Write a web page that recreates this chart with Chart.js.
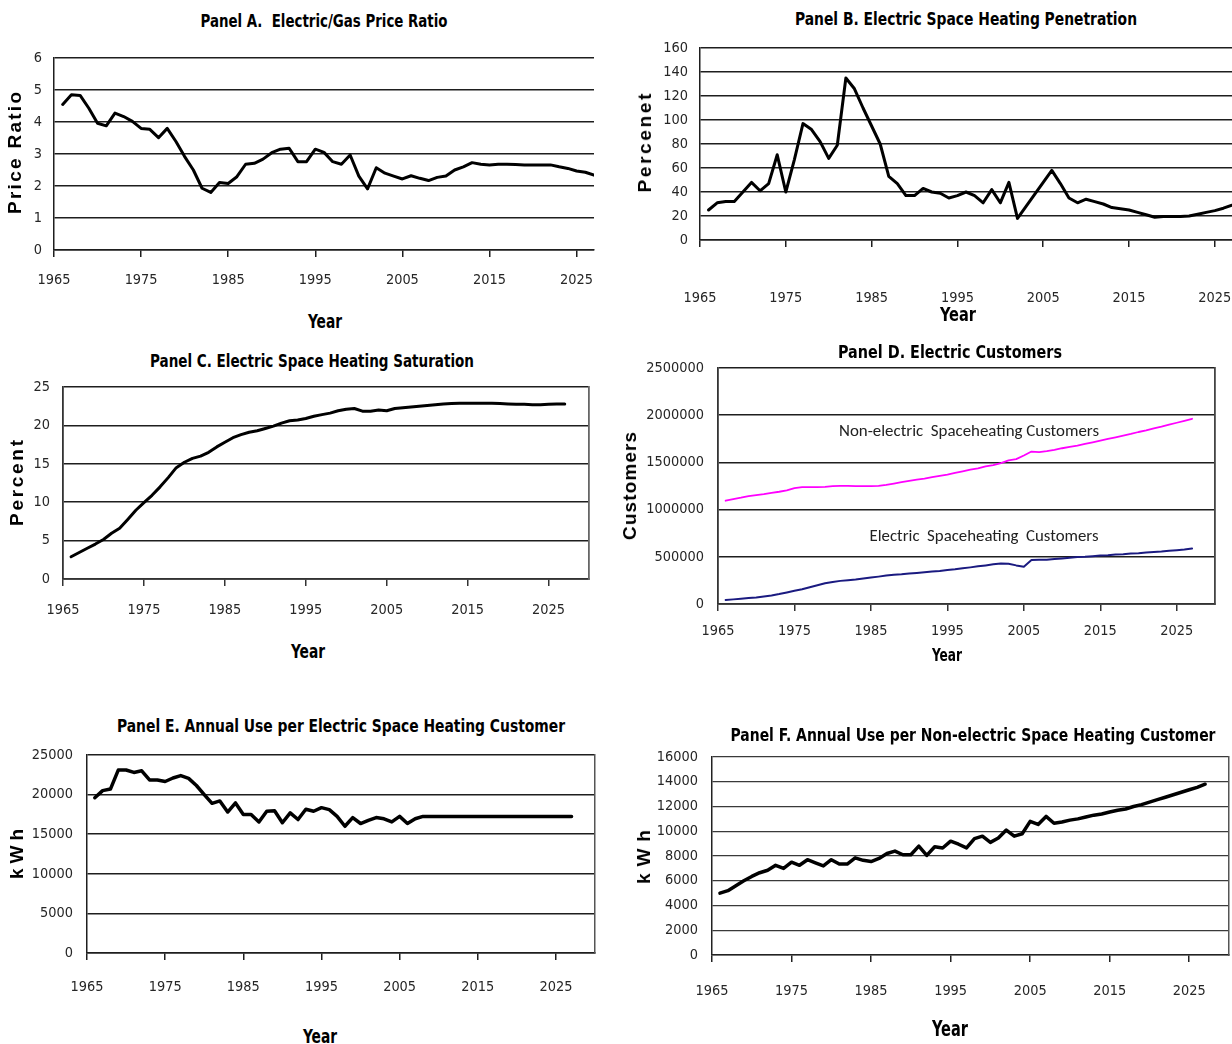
<!DOCTYPE html>
<html>
<head>
<meta charset="utf-8">
<script src="https://cdn.jsdelivr.net/npm/chart.js@4.4.1/dist/chart.umd.min.js"></script>
<style>
  html, body { margin: 0; padding: 0; background: #fff; }
  #page { position: relative; width: 1232px; height: 1044px; overflow: hidden; background: #fff; }
  #page canvas { position: absolute; }
  .lbl { position: absolute; white-space: pre; line-height: 1; color: #000; transform-origin: center center; }
</style>
</head>
<body>
<div id="page"></div>
<script>
// ---- data (annual, 1966-2027) ----
const years = [
  1966, 1967, 1968, 1969, 1970, 1971, 1972, 1973, 1974, 1975,
  1976, 1977, 1978, 1979, 1980, 1981, 1982, 1983, 1984, 1985,
  1986, 1987, 1988, 1989, 1990, 1991, 1992, 1993, 1994, 1995,
  1996, 1997, 1998, 1999, 2000, 2001, 2002, 2003, 2004, 2005,
  2006, 2007, 2008, 2009, 2010, 2011, 2012, 2013, 2014, 2015,
  2016, 2017, 2018, 2019, 2020, 2021, 2022, 2023, 2024, 2025,
  2026, 2027
];
const xTickYears = [1965, 1975, 1985, 1995, 2005, 2015, 2025];

// Panel A: electric / gas price ratio
const priceRatio = [
  4.55, 4.85, 4.83, 4.43, 3.96, 3.88, 4.28, 4.17, 4.02, 3.80,
  3.77, 3.51, 3.80, 3.39, 2.92, 2.50, 1.93, 1.80, 2.11, 2.08,
  2.29, 2.68, 2.71, 2.84, 3.04, 3.15, 3.18, 2.76, 2.76, 3.15,
  3.05, 2.76, 2.68, 2.97, 2.31, 1.91, 2.57, 2.40, 2.31, 2.22,
  2.32, 2.24, 2.17, 2.27, 2.31, 2.50, 2.60, 2.73, 2.68, 2.66,
  2.68, 2.68, 2.67, 2.66, 2.66, 2.66, 2.66, 2.60, 2.55, 2.47,
  2.43, 2.34
];
// Panel B: electric space heating penetration (%)
const penetration = [
  25, 31, 32, 32, 40, 48, 41, 47, 71, 40,
  67, 97, 92, 82, 68, 79, 135, 126, 110, 95,
  80, 53, 47, 37, 37, 43, 40, 39, 35, 37,
  40, 37, 31, 42, 31, 48, 18, 28, 38, 48,
  58, 47, 35, 31, 34, 32, 30, 27, 26, 25,
  23, 21, 19, 19.5, 19.5, 19.5, 20, 21.5, 23, 24.5,
  26.5, 29
];
// Panel C: electric space heating saturation (%)
const saturation = [
  2.9, 3.45, 4.0, 4.55, 5.15, 5.95, 6.6, 7.75, 8.95, 9.95,
  10.9, 12.0, 13.2, 14.5, 15.2, 15.7, 16.0, 16.5, 17.2, 17.8,
  18.4, 18.8, 19.1, 19.3, 19.6, 19.9, 20.3, 20.6, 20.7, 20.9,
  21.2, 21.4, 21.6, 21.9, 22.1, 22.2, 21.85, 21.85, 22.0, 21.9,
  22.2, 22.3, 22.4, 22.5, 22.6, 22.7, 22.8, 22.85, 22.9, 22.9,
  22.9, 22.9, 22.9, 22.85, 22.8, 22.75, 22.75, 22.7, 22.7, 22.75,
  22.8, 22.8
];
// Panel D: customers
const nonElectricCustomers = [
  1094000, 1112000, 1126000, 1143000, 1154000, 1164000, 1178000, 1189000, 1203000, 1227000,
  1238000, 1238000, 1239000, 1241000, 1248000, 1252000, 1252000, 1248000, 1248000, 1248000,
  1252000, 1262000, 1276000, 1290000, 1304000, 1318000, 1329000, 1343000, 1357000, 1371000,
  1388000, 1406000, 1423000, 1437000, 1458000, 1472000, 1493000, 1521000, 1535000, 1573000,
  1615000, 1608000, 1619000, 1633000, 1650000, 1664000, 1678000, 1696000, 1713000, 1731000,
  1748000, 1766000, 1783000, 1801000, 1822000, 1839000, 1860000, 1878000, 1899000, 1920000,
  1941000, 1962000
];
const electricCustomers = [
  42000, 49000, 56000, 63000, 70000, 80000, 91000, 105000, 122000, 140000,
  157000, 178000, 199000, 220000, 234000, 245000, 252000, 259000, 269000, 280000,
  290000, 301000, 311000, 315000, 322000, 329000, 336000, 343000, 350000, 360000,
  367000, 378000, 388000, 399000, 409000, 420000, 430000, 427000, 409000, 395000,
  465000, 469000, 469000, 476000, 483000, 490000, 497000, 500000, 507000, 514000,
  517000, 524000, 528000, 535000, 538000, 545000, 552000, 556000, 563000, 570000,
  577000, 587000
];
// Panel E: annual kWh per electric space heating customer
const useElectric = [
  19600, 20500, 20700, 23100, 23100, 22800, 23000, 21850, 21850, 21650,
  22100, 22400, 22050, 21150, 20000, 18900, 19200, 17800, 18950, 17500,
  17500, 16550, 17900, 17950, 16450, 17700, 16850, 18150, 17900, 18350,
  18100, 17250, 16000, 17100, 16350, 16750, 17100, 16950, 16550, 17250,
  16350, 16950, 17250, 17250, 17250, 17250, 17250, 17250, 17250, 17250,
  17250, 17250, 17250, 17250, 17250, 17250, 17250, 17250, 17250, 17250,
  17250, 17250
];
// Panel F: annual kWh per non-electric space heating customer
const useNonElectric = [
  5000, 5200, 5600, 6000, 6350, 6650, 6850, 7250, 7000, 7500,
  7250, 7700, 7450, 7200, 7700, 7350, 7350, 7850, 7650, 7550,
  7800, 8200, 8400, 8100, 8100, 8800, 8050, 8750, 8650, 9200,
  8950, 8650, 9400, 9600, 9100, 9450, 10100, 9600, 9800, 10800,
  10550, 11200, 10650, 10750, 10900, 11000, 11150, 11300, 11400, 11550,
  11700, 11800, 12000, 12150, 12350, 12550, 12750, 12950, 13150, 13350,
  13550, 13800
];

// y-axis tick values
const ticksA = [0, 1, 2, 3, 4, 5, 6];
const ticksB = [0, 20, 40, 60, 80, 100, 120, 140, 160];
const ticksC = [0, 5, 10, 15, 20, 25];
const ticksD = [0, 500000, 1000000, 1500000, 2000000, 2500000];
const ticksE = [0, 5000, 10000, 15000, 20000, 25000];
const ticksF = [0, 2000, 4000, 6000, 8000, 10000, 12000, 14000, 16000];

// ---- font selection ----
const probe = document.createElement('canvas').getContext('2d');
function hasFont(fam) {
  const s = 'mmmwwwiiil 0123456789 Year Panel';
  const m = f => { probe.font = f; return probe.measureText(s).width; };
  return m('40px monospace') !== m(`40px "${fam}", monospace`) ||
         m('40px serif') !== m(`40px "${fam}", serif`);
}
function firstFont(list, fallback) {
  for (const f of list) if (hasFont(f)) return `"${f}"`;
  return fallback;
}
const NARROW = firstFont(['Liberation Sans Narrow', 'Arial Narrow', 'DejaVu Sans Condensed'], 'sans-serif');
const SANS = firstFont(['Liberation Sans', 'Arial', 'DejaVu Sans'], 'sans-serif');
const NOTE = firstFont(['Carlito', 'Calibri', 'Lato', 'Open Sans'], 'sans-serif');

// tick label size: four digits about 33px wide
probe.font = `15px ${NARROW}`;
const tickSize = Math.round(15 * 33 / probe.measureText('2025').width * 10) / 10;
const tickFont = { family: NARROW, size: tickSize, weight: 'normal' };
const tickColor = '#262626';

Chart.defaults.font.family = NARROW;

const page = document.getElementById('page');

function panel(p) {
  const [bx, by, bw, bh] = p.box;
  const [L, T, R, B] = p.plot;
  const c = document.createElement('canvas');
  c.width = bw; c.height = bh;
  c.style.left = bx + 'px'; c.style.top = by + 'px';
  page.appendChild(c);

  const scales = {
    x: {
      type: 'linear', min: 1965, max: p.xMax,
      afterBuildTicks: s => { s.ticks = xTickYears.map(v => ({ value: v })); },
      // fixed band height; the plot edges come from the layout padding alone
      afterFit: s => { s.height = p.hx; s.paddingLeft = 0; s.paddingRight = 0; },
      grid: { drawOnChartArea: false, drawTicks: true, tickLength: 7, color: p.axisColor, lineWidth: 1.5 },
      border: { display: true, color: p.axisColor, width: p.axisWidth },
      ticks: {
        autoSkip: false, maxRotation: 0, minRotation: 0,
        padding: p.xLabelY - B - 7 - 0.6 * tickSize,
        font: tickFont, color: tickColor, callback: v => String(v)
      }
    },
    y: {
      type: 'linear', min: p.yTicks[0], max: p.yTicks[p.yTicks.length - 1],
      afterBuildTicks: s => { s.ticks = p.yTicks.map(v => ({ value: v })); },
      afterFit: s => { s.width = L - bx; s.paddingTop = 0; s.paddingBottom = 0; },
      grid: { drawOnChartArea: true, drawTicks: false, color: p.gridColor, lineWidth: p.gridWidth },
      border: { display: true, color: p.axisColor, width: p.axisWidth },
      ticks: { padding: p.yPad, font: tickFont, color: tickColor, callback: v => String(v) }
    }
  };
  if (p.frame) {
    scales.y2 = {
      type: 'linear', position: 'right', min: 0, max: 1,
      afterFit: s => { s.width = 0; s.paddingTop = 0; s.paddingBottom = 0; },
      grid: { drawOnChartArea: false, drawTicks: false },
      border: { display: true, color: p.frameColor, width: p.axisWidth },
      ticks: { display: false }
    };
  }

  new Chart(c, {
    type: 'line',
    data: {
      datasets: p.series.map(s => ({
        data: years.map((yr, i) => ({ x: yr, y: s.values[i] })),
        borderColor: s.color,
        borderWidth: s.width,
        pointRadius: 0,
        fill: false,
        tension: 0,
        borderJoinStyle: 'round',
        borderCapStyle: 'round'
      }))
    },
    options: {
      responsive: false,
      animation: false,
      events: [],
      layout: { padding: { left: 0, top: T - by, right: bx + bw - R, bottom: by + bh - B - p.hx } },
      plugins: { legend: { display: false }, tooltip: { enabled: false }, title: { display: false } },
      scales
    }
  });
}

const dark = '#1e1e1e';
panel({ box: [0, 40, 612, 270], plot: [54, 58, 594, 250], xMax: 2027, yTicks: ticksA,
  xLabelY: 280, yPad: 12, hx: 45, gridColor: dark, gridWidth: 1.5, axisColor: dark, axisWidth: 1.5,
  series: [{ values: priceRatio, color: '#000', width: 3 }] });
panel({ box: [620, 30, 612, 290], plot: [700, 48, 1232, 240], xMax: 2027, yTicks: ticksB,
  xLabelY: 298, yPad: 12, hx: 70, gridColor: dark, gridWidth: 1.5, axisColor: dark, axisWidth: 1.5,
  series: [{ values: penetration, color: '#000', width: 3 }] });
panel({ box: [0, 375, 610, 260], plot: [63, 387, 589, 579], xMax: 2030, yTicks: ticksC,
  xLabelY: 610, yPad: 13, hx: 45, gridColor: dark, gridWidth: 1.5, axisColor: '#333', axisWidth: 1.8,
  frame: true, frameColor: '#666',
  series: [{ values: saturation, color: '#000', width: 3 }] });
panel({ box: [615, 355, 617, 300], plot: [718, 368, 1215, 604], xMax: 2030, yTicks: ticksD,
  xLabelY: 631, yPad: 14, hx: 40, gridColor: dark, gridWidth: 1.5, axisColor: '#333', axisWidth: 1.8,
  frame: true, frameColor: '#444',
  series: [
    { values: nonElectricCustomers, color: '#ff00ff', width: 1.8 },
    { values: electricCustomers, color: '#1a1a80', width: 2 }
  ] });
panel({ box: [0, 740, 612, 270], plot: [87, 755, 595, 953], xMax: 2030, yTicks: ticksE,
  xLabelY: 987, yPad: 14, hx: 45, gridColor: dark, gridWidth: 1.5, axisColor: dark, axisWidth: 1.5,
  frame: true, frameColor: '#555',
  series: [{ values: useElectric, color: '#000', width: 3.5 }] });
panel({ box: [615, 740, 617, 280], plot: [712, 757, 1229, 955], xMax: 2030, yTicks: ticksF,
  xLabelY: 991, yPad: 14, hx: 50, gridColor: '#3a3a3a', gridWidth: 1.3, axisColor: '#222', axisWidth: 1.5,
  frame: true, frameColor: '#555',
  series: [{ values: useNonElectric, color: '#000', width: 3.5 }] });

// ---- titles and axis labels ----
function place(text, cx, cy, font, opt) {
  const el = document.createElement('div');
  el.className = 'lbl';
  el.textContent = text;
  el.style.font = font;
  el.style.left = cx + 'px';
  el.style.top = cy + 'px';
  if (opt.color) el.style.color = opt.color;
  page.appendChild(el);
  const natural = el.getBoundingClientRect().width;
  let sx = 1;
  if (opt.spread) {
    const sp = (opt.width - natural) / Math.max(1, text.length - 1);
    el.style.letterSpacing = sp + 'px';
    el.style.paddingLeft = sp + 'px';
  } else if (opt.width) {
    sx = opt.width / natural;
  }
  el.style.transform = `translate(-50%, -50%) rotate(${opt.rot || 0}deg) scaleX(${sx})`;
}

const titleFont = `bold 17px ${NARROW}`;
place('Panel A.  Electric/Gas Price Ratio', 323.5, 21, titleFont, { width: 247 });
place('Panel B. Electric Space Heating Penetration', 966, 19, titleFont, { width: 342 });
place('Panel C. Electric Space Heating Saturation', 312, 361, titleFont, { width: 324 });
place('Panel D. Electric Customers', 950, 352, titleFont, { width: 224 });
place('Panel E. Annual Use per Electric Space Heating Customer', 341, 726, titleFont, { width: 448 });
place('Panel F. Annual Use per Non-electric Space Heating Customer', 972.5, 734, `bold 18px ${NARROW}`, { width: 485 });

const yearFont = `bold 19px ${NARROW}`;
place('Year', 325, 321, yearFont, { width: 34 });
place('Year', 958, 314, yearFont, { width: 36 });
place('Year', 308, 651, yearFont, { width: 34 });
place('Year', 947, 655, `bold 17px ${NARROW}`, { width: 30 });
place('Year', 320, 1036, yearFont, { width: 34 });
place('Year', 950, 1029, `bold 21px ${NARROW}`, { width: 36 });

const axisFont = `bold 19px ${SANS}`;
place('Price Ratio', 15, 153, axisFont, { width: 122, spread: true, rot: -90 });
place('Percenet', 645, 143, axisFont, { width: 99, spread: true, rot: -90 });
place('Percent', 17, 483, axisFont, { width: 86, spread: true, rot: -90 });
place('Customers', 630, 486, axisFont, { width: 108, spread: true, rot: -90 });
place('kWh', 17, 854, axisFont, { width: 50, spread: true, rot: -90 });
place('kWh', 644, 857, axisFont, { width: 54, spread: true, rot: -90 });

const noteFont = `16px ${NOTE}`;
place('Non-electric  Spaceheating Customers', 969, 430, noteFont, { width: 260, color: '#222' });
place('Electric  Spaceheating  Customers', 984, 535, noteFont, { width: 229, color: '#222' });
</script>
</body>
</html>
